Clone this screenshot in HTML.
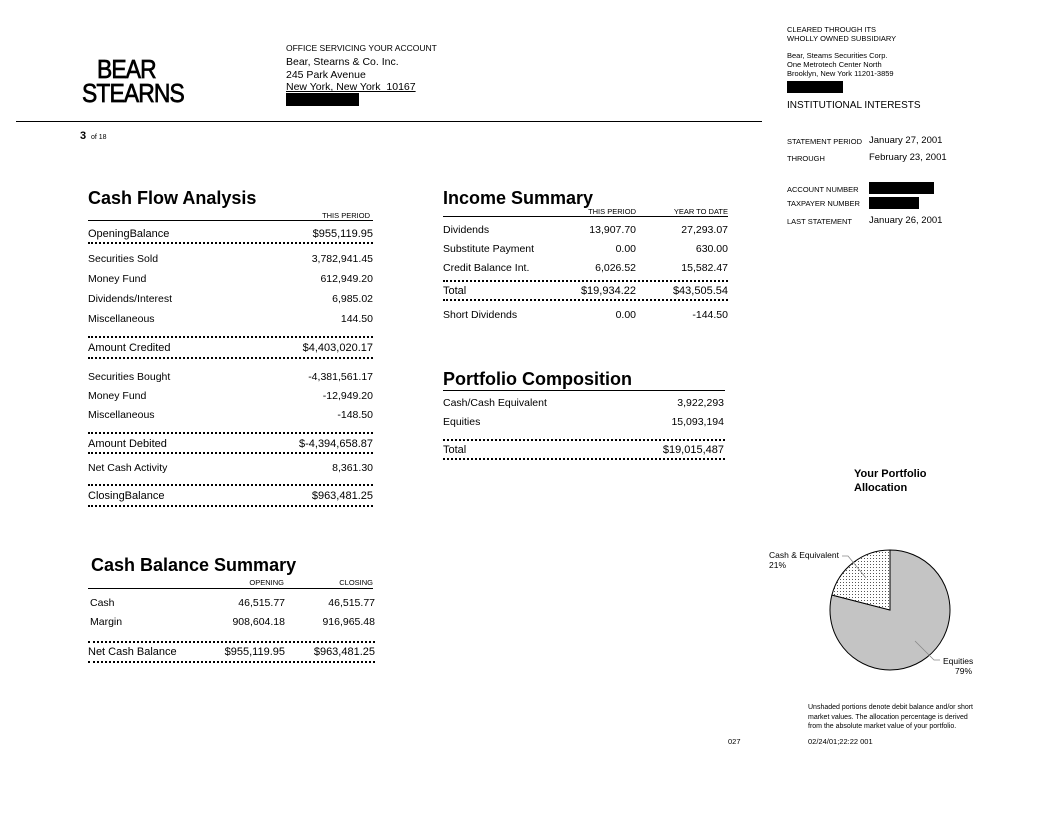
<!DOCTYPE html>
<html><head><meta charset="utf-8"><style>
body{margin:0;width:1056px;height:816px;background:#fff;position:relative;font-family:"Liberation Sans",Arial,sans-serif;color:#000;overflow:hidden}
.t{position:absolute;white-space:nowrap;font-size:10.5px;line-height:12px}
.s{font-size:7.5px;line-height:9px}
.h{position:absolute;font-size:18px;font-weight:bold;line-height:20px;white-space:nowrap}
.r{text-align:right}
.ln{position:absolute;height:0;border-top:1.3px solid #000}
.dt{position:absolute;height:0;border-top:2px dotted #000}
.bx{position:absolute;background:#000}
.lg{position:absolute;font-size:26px;line-height:26px;white-space:nowrap;transform-origin:0 0;transform:scaleX(0.88);letter-spacing:-1px;-webkit-text-stroke:0.7px #000}
</style></head><body>
<div class="lg" style="left:97px;top:56px">BEAR</div>
<div class="lg" style="left:82px;top:80px">STEARNS</div>
<div class="t s" style="left:286px;top:44px;font-size:8.5px">OFFICE SERVICING YOUR ACCOUNT</div>
<div class="t" style="left:286px;top:56px">Bear, Stearns &amp; Co. Inc.</div>
<div class="t" style="left:286px;top:69px">245 Park Avenue</div>
<div class="t" style="left:286px;top:81px;text-decoration:underline">New York, New York&nbsp; 10167</div>
<div class="bx" style="left:286px;top:93px;width:73px;height:13px"></div>
<div class="ln" style="left:16px;top:121px;width:746px"></div>
<div class="t" style="left:80px;top:130px"><b style="font-size:11px">3</b> <span style="font-size:7px">&nbsp;of 18</span></div>

<div class="t s" style="left:787px;top:25px">CLEARED THROUGH ITS</div>
<div class="t s" style="left:787px;top:34px">WHOLLY OWNED SUBSIDIARY</div>
<div class="t s" style="left:787px;top:51px">Bear, Steams Securities Corp.</div>
<div class="t s" style="left:787px;top:60px">One Metrotech Center North</div>
<div class="t s" style="left:787px;top:69px">Brooklyn, New York 11201-3859</div>
<div class="bx" style="left:787px;top:81px;width:56px;height:12px"></div>
<div class="t" style="left:787px;top:100px;font-size:10px">INSTITUTIONAL INTERESTS</div>
<div class="t s" style="left:787px;top:137px">STATEMENT PERIOD</div>
<div class="t" style="left:869px;top:135px;font-size:9.5px">January 27, 2001</div>
<div class="t s" style="left:787px;top:154px">THROUGH</div>
<div class="t" style="left:869px;top:152px;font-size:9.5px">February 23, 2001</div>
<div class="t s" style="left:787px;top:185px">ACCOUNT NUMBER</div>
<div class="bx" style="left:869px;top:182px;width:65px;height:12px"></div>
<div class="t s" style="left:787px;top:199px">TAXPAYER NUMBER</div>
<div class="bx" style="left:869px;top:197px;width:50px;height:12px"></div>
<div class="t s" style="left:787px;top:217px">LAST STATEMENT</div>
<div class="t" style="left:869px;top:215px;font-size:9.5px">January 26, 2001</div>

<!-- Cash Flow -->
<div class="h" style="left:88px;top:188px">Cash Flow Analysis</div>
<div class="t s r" style="right:686px;top:211px">THIS PERIOD</div>
<div class="ln" style="left:88px;top:220px;width:285px"></div>
<div class="t" style="left:88px;top:228px;font-size:11px">OpeningBalance</div><div class="t r" style="right:683px;top:228px;font-size:11px">$955,119.95</div>
<div class="dt" style="left:88px;top:242px;width:285px"></div>
<div class="t" style="left:88px;top:253px">Securities Sold</div><div class="t r" style="right:683px;top:253px">3,782,941.45</div>
<div class="t" style="left:88px;top:273px">Money Fund</div><div class="t r" style="right:683px;top:273px">612,949.20</div>
<div class="t" style="left:88px;top:293px">Dividends/Interest</div><div class="t r" style="right:683px;top:293px">6,985.02</div>
<div class="t" style="left:88px;top:313px">Miscellaneous</div><div class="t r" style="right:683px;top:313px">144.50</div>
<div class="dt" style="left:88px;top:336px;width:285px"></div>
<div class="t" style="left:88px;top:342px;font-size:11px">Amount Credited</div><div class="t r" style="right:683px;top:342px;font-size:11px">$4,403,020.17</div>
<div class="dt" style="left:88px;top:357px;width:285px"></div>
<div class="t" style="left:88px;top:371px">Securities Bought</div><div class="t r" style="right:683px;top:371px">-4,381,561.17</div>
<div class="t" style="left:88px;top:390px">Money Fund</div><div class="t r" style="right:683px;top:390px">-12,949.20</div>
<div class="t" style="left:88px;top:409px">Miscellaneous</div><div class="t r" style="right:683px;top:409px">-148.50</div>
<div class="dt" style="left:88px;top:432px;width:285px"></div>
<div class="t" style="left:88px;top:438px;font-size:11px">Amount Debited</div><div class="t r" style="right:683px;top:438px;font-size:11px">$-4,394,658.87</div>
<div class="dt" style="left:88px;top:452px;width:285px"></div>
<div class="t" style="left:88px;top:462px">Net Cash Activity</div><div class="t r" style="right:683px;top:462px">8,361.30</div>
<div class="dt" style="left:88px;top:484px;width:285px"></div>
<div class="t" style="left:88px;top:490px;font-size:11px">ClosingBalance</div><div class="t r" style="right:683px;top:490px;font-size:11px">$963,481.25</div>
<div class="dt" style="left:88px;top:505px;width:285px"></div>

<!-- Income Summary -->
<div class="h" style="left:443px;top:188px">Income Summary</div>
<div class="t s r" style="right:420px;top:207px">THIS PERIOD</div>
<div class="t s r" style="right:328px;top:207px">YEAR TO DATE</div>
<div class="ln" style="left:443px;top:216px;width:285px"></div>
<div class="t" style="left:443px;top:224px">Dividends</div><div class="t r" style="right:420px;top:224px">13,907.70</div><div class="t r" style="right:328px;top:224px">27,293.07</div>
<div class="t" style="left:443px;top:243px">Substitute Payment</div><div class="t r" style="right:420px;top:243px">0.00</div><div class="t r" style="right:328px;top:243px">630.00</div>
<div class="t" style="left:443px;top:262px">Credit Balance Int.</div><div class="t r" style="right:420px;top:262px">6,026.52</div><div class="t r" style="right:328px;top:262px">15,582.47</div>
<div class="dt" style="left:443px;top:280px;width:285px"></div>
<div class="t" style="left:443px;top:285px;font-size:11px">Total</div><div class="t r" style="right:420px;top:285px;font-size:11px">$19,934.22</div><div class="t r" style="right:328px;top:285px;font-size:11px">$43,505.54</div>
<div class="dt" style="left:443px;top:299px;width:285px"></div>
<div class="t" style="left:443px;top:309px">Short Dividends</div><div class="t r" style="right:420px;top:309px">0.00</div><div class="t r" style="right:328px;top:309px">-144.50</div>

<!-- Portfolio -->
<div class="h" style="left:443px;top:369px">Portfolio Composition</div>
<div class="ln" style="left:443px;top:390px;width:282px"></div>
<div class="t" style="left:443px;top:397px">Cash/Cash Equivalent</div><div class="t r" style="right:332px;top:397px">3,922,293</div>
<div class="t" style="left:443px;top:416px">Equities</div><div class="t r" style="right:332px;top:416px">15,093,194</div>
<div class="dt" style="left:443px;top:439px;width:282px"></div>
<div class="t" style="left:443px;top:444px;font-size:11px">Total</div><div class="t r" style="right:332px;top:444px;font-size:11px">$19,015,487</div>
<div class="dt" style="left:443px;top:458px;width:282px"></div>

<!-- Cash balance -->
<div class="h" style="left:91px;top:555px">Cash Balance Summary</div>
<div class="t s r" style="right:772px;top:578px">OPENING</div>
<div class="t s r" style="right:683px;top:578px">CLOSING</div>
<div class="ln" style="left:88px;top:588px;width:285px"></div>
<div class="t" style="left:90px;top:597px">Cash</div><div class="t r" style="right:771px;top:597px">46,515.77</div><div class="t r" style="right:681px;top:597px">46,515.77</div>
<div class="t" style="left:90px;top:616px">Margin</div><div class="t r" style="right:771px;top:616px">908,604.18</div><div class="t r" style="right:681px;top:616px">916,965.48</div>
<div class="dt" style="left:88px;top:641px;width:287px"></div>
<div class="t" style="left:88px;top:646px;font-size:11px">Net Cash Balance</div><div class="t r" style="right:771px;top:646px;font-size:11px">$955,119.95</div><div class="t r" style="right:681px;top:646px;font-size:11px">$963,481.25</div>
<div class="dt" style="left:88px;top:661px;width:287px"></div>

<!-- Allocation -->
<div class="t" style="left:854px;top:467px;font-weight:bold;font-size:11px;line-height:14px">Your Portfolio<br>Allocation</div>
<svg style="position:absolute;left:0;top:0" width="1056" height="816">
<defs><pattern id="p" width="3" height="3" patternUnits="userSpaceOnUse"><rect width="3" height="3" fill="#fff"/><rect width="1" height="1" fill="#555"/></pattern></defs>
<path d="M890,610 L890,550 A60,60 0 1 1 831.9,595 Z" fill="#c4c4c4" stroke="#000" stroke-width="1"/>
<path d="M890,610 L831.9,595 A60,60 0 0 1 890,550 Z" fill="url(#p)" stroke="#000" stroke-width="1"/>
<polyline points="842,556 848,556 866,578" fill="none" stroke="#888" stroke-width="0.8"/>
<polyline points="915,641 934,660 940,660" fill="none" stroke="#888" stroke-width="0.8"/>
</svg>
<div class="t" style="left:769px;top:550px;font-size:8.5px;line-height:10px">Cash &amp; Equivalent<br>21%</div>
<div class="t" style="left:943px;top:656px;font-size:8.5px;line-height:10px">Equities<br><span style="padding-left:12px">79%</span></div>
<div class="t s" style="left:808px;top:703px;line-height:9.5px;font-size:7px">Unshaded portions denote debit balance and/or short<br>market values. The allocation percentage is derived<br>from the absolute market value of your portfolio.</div>
<div class="t s" style="left:728px;top:737px">027</div>
<div class="t s" style="left:808px;top:737px">02/24/01;22:22 001</div>
</body></html>
